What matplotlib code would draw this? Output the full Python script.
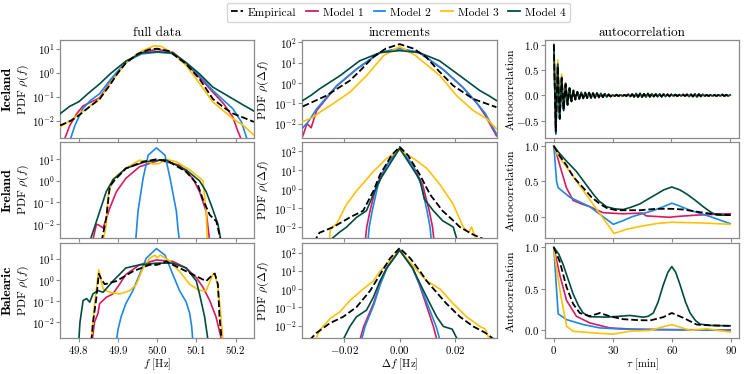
import matplotlib
matplotlib.use("Agg")
import matplotlib.pyplot as plt
from matplotlib.ticker import FixedLocator, NullLocator, LogFormatterSciNotation
from matplotlib.lines import Line2D

plt.rcParams['font.family'] = 'serif'
plt.rcParams['font.serif'] = ['cmr10']
plt.rcParams['mathtext.fontset'] = 'cm'
plt.rcParams['axes.formatter.use_mathtext'] = True
plt.rcParams['font.size'] = 8.5

# ---------------- labels ----------------
SERIES = ["Empirical", "Model 1", "Model 2", "Model 3", "Model 4"]
REGIONS = ["Iceland", "Ireland", "Balearic"]
COL_TITLES = ["full data", "increments", "autocorrelation"]
YLABELS = [r"PDF $\rho(f)$", r"PDF $\rho(\Delta f)$", "Autocorrelation"]
XLABELS = [r"$f$ [Hz]", r"$\Delta f$ [Hz]", r"$\tau$ [min]"]
F_TICKS = [49.8, 49.9, 50.0, 50.1, 50.2]
DF_TICKS = [-0.02, 0.0, 0.02]
TAU_TICKS = [0, 30, 60, 90]

# ---------------- data: (x, log10 PDF) ----------------
# Iceland, full data
ICE_F_EMP = [(49.752,-2.2),(49.78,-2.0),(49.80,-1.78),(49.825,-1.45),(49.853,-1.1),(49.88,-0.5),(49.90,0.0),(49.92,0.4),(49.95,0.78),(49.98,0.97),(50.0,1.0),(50.03,0.9),(50.074,0.36),(50.108,-0.26),(50.142,-1.09),(50.17,-1.45),(50.193,-1.7),(50.22,-1.87),(50.247,-2.05)]
ICE_F_M1 = [(49.764,-2.75),(49.777,-2.2),(49.795,-1.7),(49.811,-1.38),(49.853,-1.05),(49.88,-0.4),(49.92,0.42),(49.96,0.85),(50.0,0.97),(50.04,0.85),(50.074,0.38),(50.108,-0.19),(50.142,-0.81),(50.17,-1.3),(50.193,-1.85),(50.205,-2.4),(50.215,-2.8)]
ICE_F_M2 = [(49.778,-2.8),(49.79,-2.2),(49.81,-1.5),(49.83,-1.15),(49.853,-0.88),(49.88,-0.3),(49.92,0.45),(49.96,0.78),(50.0,0.85),(50.04,0.8),(50.074,0.4),(50.108,-0.12),(50.142,-0.74),(50.193,-1.5),(50.215,-2.05),(50.23,-2.8)]
ICE_F_M3 = [(49.752,-2.26),(49.786,-1.91),(49.80,-1.72),(49.82,-1.5),(49.853,-1.09),(49.88,-0.45),(49.92,0.42),(49.96,0.9),(49.993,1.12),(50.01,1.1),(50.04,0.8),(50.074,0.3),(50.108,-0.45),(50.142,-1.22),(50.193,-1.91),(50.22,-2.2),(50.247,-2.6)]
ICE_F_M4 = [(49.752,-1.71),(49.765,-1.55),(49.777,-1.4),(49.80,-1.21),(49.825,-0.85),(49.853,-0.47),(49.88,-0.05),(49.92,0.48),(49.96,0.82),(50.0,0.87),(50.04,0.82),(50.074,0.42),(50.108,-0.05),(50.142,-0.6),(50.193,-1.09),(50.22,-1.35),(50.247,-1.6)]

# Iceland, increments
ICE_I_EMP = [(-0.035,-1.15),(-0.0265,-0.62),(-0.018,0.12),(-0.014,0.65),(-0.0096,1.28),(-0.005,1.7),(0.0,1.92),(0.005,1.7),(0.0096,1.28),(0.014,0.62),(0.0194,-0.13),(0.0266,-0.78),(0.035,-1.19)]
ICE_I_M1 = [(-0.035,-2.6),(-0.0335,-2.0),(-0.032,-2.2),(-0.030,-1.35),(-0.0228,-0.15),(-0.0156,0.68),(-0.0071,1.5),(0.0,1.7),(0.0071,1.5),(0.0156,0.68),(0.0228,-0.2),(0.028,-1.0),(0.031,-1.6),(0.033,-2.1),(0.035,-2.6)]
ICE_I_M2 = [(-0.035,-2.2),(-0.033,-1.9),(-0.030,-1.27),(-0.0228,-0.13),(-0.0156,0.69),(-0.0071,1.51),(0.0,1.7),(0.0071,1.51),(0.0156,0.69),(0.0228,-0.2),(0.028,-1.0),(0.031,-1.5),(0.033,-2.0),(0.035,-2.5)]
ICE_I_M3 = [(-0.035,-1.9),(-0.0315,-1.7),(-0.0288,-1.43),(-0.025,-1.1),(-0.018,-0.45),(-0.012,0.36),(-0.0059,1.34),(0.0,1.8),(0.0059,1.34),(0.0146,0.36),(0.0206,-0.62),(0.0266,-1.35),(0.0315,-1.76),(0.035,-2.25)]
ICE_I_M4 = [(-0.035,-0.86),(-0.032,-0.6),(-0.029,-0.29),(-0.0216,0.36),(-0.0144,1.1),(-0.007,1.5),(0.0,1.6),(0.007,1.5),(0.0144,1.1),(0.0218,0.36),(0.029,-0.37),(0.032,-0.6),(0.035,-0.86)]

# Ireland, full data
IRE_F_EMP = [(49.858,-2.8),(49.87,-1.72),(49.879,-0.27),(49.89,0.0),(49.92,0.57),(49.964,0.88),(49.998,0.99),(50.03,0.88),(50.074,0.42),(50.104,-0.19),(50.117,-0.88),(50.134,-1.57),(50.151,-1.87),(50.163,-2.8)]
IRE_F_M1 = [(49.835,-2.8),(49.845,-2.0),(49.852,-2.05),(49.862,-2.18),(49.879,-1.26),(49.896,-0.5),(49.92,0.11),(49.955,0.65),(50.006,0.95),(50.057,0.72),(50.091,0.11),(50.108,-0.5),(50.125,-1.41),(50.134,-2.8)]
IRE_F_M2 = [(49.945,-2.8),(49.951,-1.41),(49.964,0.11),(49.977,1.18),(49.998,1.52),(50.02,1.18),(50.033,0.11),(50.049,-1.41),(50.053,-2.2),(50.057,-2.8)]
IRE_F_M3 = [(49.862,-2.8),(49.87,-2.0),(49.875,-0.65),(49.887,0.08),(49.92,0.57),(49.955,0.95),(49.977,0.88),(49.99,0.77),(50.006,0.8),(50.023,0.99),(50.049,0.88),(50.083,0.5),(50.104,0.2),(50.117,0.0),(50.125,-1.41),(50.128,-2.8)]
IRE_F_M4 = [(49.828,-2.8),(49.845,-1.87),(49.87,-0.5),(49.887,0.04),(49.92,0.57),(49.97,0.88),(50.02,0.98),(50.074,0.5),(50.108,0.0),(50.125,-0.5),(50.141,-1.27),(50.155,-2.0),(50.163,-2.8)]

# Ireland, increments
IRE_I_EMP = [(-0.031,-2.8),(-0.029,-2.3),(-0.024,-2.0),(-0.018,-1.49),(-0.0132,-1.14),(-0.0095,-0.1),(-0.0071,0.76),(-0.0029,1.79),(0.0,2.23),(0.003,1.79),(0.0073,0.76),(0.011,-0.28),(0.0155,-1.14),(0.0194,-1.66),(0.0218,-2.0),(0.0266,-2.4),(0.033,-2.8)]
IRE_I_M1 = [(-0.0125,-2.8),(-0.0119,-2.0),(-0.0107,-1.14),(-0.0083,0.24),(-0.0047,1.27),(0.0,2.15),(0.0047,1.27),(0.0083,0.24),(0.0107,-1.14),(0.0119,-2.0),(0.0125,-2.8)]
IRE_I_M2 = [(-0.0115,-2.8),(-0.0110,-2.0),(-0.0099,-1.14),(-0.0078,0.24),(-0.0045,1.3),(0.0,2.17),(0.0045,1.3),(0.0078,0.24),(0.0099,-1.14),(0.0110,-2.0),(0.0115,-2.8)]
IRE_I_M3 = [(-0.0255,-2.8),(-0.025,-2.1),(-0.0228,-1.83),(-0.0192,-0.8),(-0.0156,-0.1),(-0.0095,0.93),(-0.0047,1.62),(0.0,2.06),(0.005,1.62),(0.0098,1.1),(0.0146,0.24),(0.0194,-0.8),(0.023,-2.0),(0.025,-2.3),(0.026,-2.0),(0.028,-2.8)]
IRE_I_M4 = [(-0.026,-2.8),(-0.022,-2.3),(-0.0192,-2.0),(-0.0156,-1.49),(-0.012,-1.14),(-0.0095,-0.28),(-0.0071,0.5),(0.0,2.15),(0.0073,0.5),(0.009,-0.54),(0.0122,-1.14),(0.0155,-1.66),(0.0194,-2.0),(0.021,-2.8)]

# Balearic, full data
BAL_F_EMP = [(49.832,-2.9),(49.836,-2.04),(49.845,-0.82),(49.851,0.3),(49.856,0.1),(49.866,-0.2),(49.896,-0.05),(49.938,0.41),(49.98,0.72),(50.0,0.72),(50.023,0.88),(50.057,0.57),(50.091,0.26),(50.125,-0.05),(50.142,0.26),(50.147,0.3),(50.155,-0.2),(50.159,-1.74),(50.165,-2.9)]
BAL_F_M1 = [(49.834,-2.9),(49.84,-2.0),(49.849,-1.58),(49.853,-1.12),(49.87,-0.82),(49.887,-0.66),(49.904,-0.2),(49.92,0.26),(49.955,0.72),(49.998,0.95),(50.04,0.88),(50.074,0.57),(50.1,0.11),(50.117,-0.35),(50.134,-0.97),(50.15,-1.74),(50.165,-2.9)]
BAL_F_M2 = [(49.896,-2.9),(49.9,-2.35),(49.908,-1.74),(49.92,-1.12),(49.938,-0.5),(49.955,0.26),(49.972,1.03),(49.998,1.49),(50.02,1.18),(50.04,0.26),(50.057,-0.5),(50.074,-1.04),(50.083,-1.58),(50.088,-2.2),(50.091,-2.9)]
BAL_F_M3 = [(49.832,-2.9),(49.84,-1.2),(49.851,0.49),(49.862,-0.43),(49.879,-0.58),(49.904,-0.66),(49.93,-0.5),(49.947,-0.2),(49.964,0.57),(49.981,1.03),(49.994,1.18),(50.0,1.06),(50.008,1.18),(50.028,0.96),(50.057,0.41),(50.083,-0.2),(50.108,-0.5),(50.125,-0.5),(50.142,0.26),(50.147,0.33),(50.155,-0.35),(50.16,-1.2),(50.168,-2.9)]
BAL_F_M4 = [(49.80,-2.9),(49.803,-2.0),(49.811,-0.97),(49.82,-0.88),(49.828,-1.05),(49.836,-0.66),(49.849,-0.5),(49.862,-0.58),(49.887,-0.05),(49.92,0.57),(49.955,0.72),(49.998,0.8),(50.04,0.8),(50.074,0.57),(50.1,-0.05),(50.108,-0.66),(50.121,-1.74),(50.13,-2.9)]

# Balearic, increments
BAL_I_EMP = [(-0.0326,-2.8),(-0.030,-2.4),(-0.0252,-1.87),(-0.0204,-1.52),(-0.0156,-0.99),(-0.0107,-0.1),(-0.0071,0.79),(-0.0035,1.68),(0.0,2.25),(0.0039,1.68),(0.0075,0.95),(0.0098,0.44),(0.0134,-0.19),(0.017,-0.81),(0.0218,-1.52),(0.0266,-2.05),(0.031,-2.4),(0.0345,-2.8)]
BAL_I_M1 = [(-0.0144,-2.8),(-0.013,-2.05),(-0.0095,-0.81),(-0.0071,0.26),(-0.0047,1.15),(0.0,2.13),(0.0047,1.15),(0.0071,0.26),(0.0095,-0.81),(0.0122,-2.05),(0.0135,-2.8)]
BAL_I_M2 = [(-0.0138,-2.8),(-0.0125,-2.05),(-0.0092,-0.81),(-0.0070,0.26),(-0.0046,1.15),(0.0,2.15),(0.0046,1.15),(0.0072,0.26),(0.0100,-0.81),(0.0132,-2.05),(0.0146,-2.8)]
BAL_I_M3 = [(-0.0305,-2.8),(-0.0288,-2.23),(-0.025,-1.6),(-0.0216,-1.25),(-0.018,-0.63),(-0.0132,0.0),(-0.0095,0.44),(-0.0071,0.97),(0.0,2.13),(0.0047,1.3),(0.0098,0.44),(0.0146,0.0),(0.0194,-0.81),(0.0242,-1.52),(0.029,-2.05),(0.031,-2.2),(0.0325,-2.8)]
BAL_I_M4 = [(-0.0205,-2.8),(-0.018,-2.05),(-0.0156,-1.52),(-0.012,-1.16),(-0.0095,-0.45),(-0.0071,0.44),(-0.0047,1.15),(0.0,2.13),(0.0047,1.15),(0.0075,0.26),(0.011,-0.81),(0.0134,-1.52),(0.0158,-2.05),(0.019,-2.2),(0.021,-2.8)]

# ---------------- autocorrelation (tau [min], value) ----------------
ICE_TAU = list(range(0, 91))
ICE_A_EMP = [1.00,-0.70,0.58,-0.45,0.34,-0.28,0.22,-0.18,0.14,-0.11,
             0.09,-0.08,0.07,-0.06,0.06,-0.05,0.05,-0.05,0.05,-0.04,
             0.04,-0.04,0.04,-0.03,0.03,-0.03,0.03,-0.02,0.02,-0.02,
             0.01,-0.01,0.01,-0.01,0.01,-0.01,0.01,-0.01,0.02,-0.02,
             0.02,-0.02,0.03,-0.03,0.03,-0.03,0.03,-0.02,0.03,-0.02,
             0.03,-0.02,0.02,-0.02,0.02,-0.02,0.02,-0.02,0.02,-0.01,
             0.02,-0.01,0.01,-0.01,0.01,-0.01,0.01,-0.01,0.02,-0.01,
             0.02,-0.02,0.02,-0.02,0.02,-0.01,0.01,-0.01,0.01,-0.01,
             0.01,-0.01,0.01,-0.01,0.01,-0.01,0.01,-0.01,0.01,-0.01,0.01]
ICE_A_M1 = [1.00,-0.72,0.60,-0.46,0.35,-0.28,0.23,-0.18,0.14,-0.12,
            0.10,-0.08,0.07,-0.07,0.06,-0.05,0.06,-0.05,0.05,-0.05,
            0.05,-0.04,0.04,-0.04,0.03,-0.03,0.03,-0.02,0.02,-0.02,
            0.01,-0.01,0.02,-0.01,0.01,-0.01,0.01,-0.01,0.02,-0.02,
            0.03,-0.02,0.03,-0.03,0.04,-0.03,0.03,-0.03,0.03,-0.02,
            0.03,-0.02,0.03,-0.02,0.02,-0.02,0.03,-0.02,0.02,-0.02,
            0.02,-0.01,0.01,-0.01,0.02,-0.01,0.02,-0.01,0.02,-0.02,
            0.02,-0.02,0.03,-0.02,0.02,-0.02,0.02,-0.01,0.01,-0.01,
            0.01,-0.01,0.01,-0.01,0.01,-0.01,0.02,-0.01,0.01,-0.01,0.01]
ICE_A_M2 = [1.00,-0.74,0.61,-0.46,0.36,-0.29,0.23,-0.19,0.15,-0.12,
            0.10,-0.08,0.07,-0.07,0.06,-0.06,0.05,-0.05,0.05,-0.05,
            0.05,-0.04,0.04,-0.04,0.04,-0.03,0.03,-0.03,0.02,-0.02,
            0.01,-0.01,0.01,-0.01,0.01,-0.01,0.01,-0.01,0.02,-0.02,
            0.03,-0.03,0.03,-0.03,0.04,-0.03,0.03,-0.03,0.04,-0.03,
            0.03,-0.02,0.03,-0.02,0.03,-0.02,0.02,-0.02,0.02,-0.02,
            0.02,-0.01,0.02,-0.01,0.01,-0.01,0.02,-0.01,0.02,-0.02,
            0.02,-0.02,0.03,-0.03,0.03,-0.02,0.02,-0.01,0.01,-0.01,
            0.01,-0.01,0.01,-0.01,0.01,-0.01,0.02,-0.01,0.01,-0.01,0.01]
ICE_A_M3 = [1.00,-0.55,0.70,-0.40,0.42,-0.26,0.25,-0.17,0.15,-0.11,
            0.10,-0.08,0.07,-0.06,0.06,-0.05,0.05,-0.05,0.05,-0.04,
            0.05,-0.04,0.04,-0.03,0.03,-0.03,0.03,-0.02,0.02,-0.02,
            0.01,-0.01,0.01,-0.01,0.01,-0.01,0.01,-0.01,0.02,-0.02,
            0.03,-0.03,0.03,-0.03,0.03,-0.03,0.03,-0.03,0.03,-0.03,
            0.03,-0.02,0.03,-0.02,0.02,-0.02,0.03,-0.02,0.02,-0.02,
            0.02,-0.01,0.01,-0.01,0.01,-0.01,0.02,-0.01,0.02,-0.02,
            0.02,-0.02,0.03,-0.03,0.02,-0.02,0.02,-0.01,0.01,-0.01,
            0.01,-0.01,0.01,-0.01,0.01,-0.01,0.01,-0.01,0.01,-0.01,0.01]
ICE_A_M4 = [1.00,-0.76,0.62,-0.47,0.36,-0.30,0.24,-0.19,0.15,-0.12,
            0.10,-0.08,0.07,-0.07,0.06,-0.06,0.06,-0.05,0.06,-0.05,
            0.05,-0.05,0.05,-0.04,0.04,-0.04,0.03,-0.03,0.02,-0.02,
            0.01,-0.01,0.01,-0.01,0.01,-0.01,0.01,-0.01,0.02,-0.02,
            0.03,-0.03,0.04,-0.03,0.04,-0.03,0.03,-0.03,0.04,-0.03,
            0.03,-0.02,0.03,-0.02,0.03,-0.03,0.03,-0.02,0.02,-0.02,
            0.02,-0.01,0.02,-0.01,0.01,-0.01,0.02,-0.01,0.02,-0.02,
            0.02,-0.02,0.03,-0.03,0.03,-0.02,0.02,-0.01,0.01,-0.01,
            0.01,-0.01,0.01,-0.01,0.01,-0.01,0.02,-0.01,0.01,-0.01,0.01]

IRE_A_EMP = [(0,1.0),(3,0.86),(6.4,0.73),(10,0.56),(14.9,0.41),(19,0.28),(23.4,0.18),(27,0.12),(31.9,0.09),(43.7,0.09),(52,0.11),(60,0.11),(66,0.1),(72.6,0.07),(80,0.04),(89.7,0.02)]
IRE_A_M1 = [(0,1.0),(1.5,0.88),(3,0.73),(6.4,0.41),(9.8,0.23),(14,0.18),(18.3,0.14),(25.1,0.055),(35,0.04),(45,0.05),(47,0.01),(53,0.0),(59,-0.01),(62,0.0),(72,0.02),(80,0.03),(89.7,0.04)]
IRE_A_M2 = [(0,1.0),(0.7,0.75),(1.4,0.5),(2.2,0.41),(8.1,0.275),(18.3,0.14),(25,0.0),(30.2,-0.11),(35,-0.06),(40,0.0),(45.5,0.045),(50,0.08),(55.7,0.14),(60,0.19),(64,0.15),(69.3,0.09),(79.5,0.0),(89.7,-0.1)]
IRE_A_M3 = [(0,1.0),(1.4,0.9),(30.6,-0.24),(37,-0.18),(43.8,-0.14),(52,-0.1),(60,-0.08),(75,-0.09),(89.7,-0.11)]
IRE_A_M4 = [(0,1.0),(2.2,0.92),(6,0.8),(11.5,0.64),(16,0.47),(20,0.32),(23,0.22),(26.8,0.14),(31,0.11),(35.3,0.10),(39,0.13),(43.8,0.18),(48,0.25),(52.3,0.32),(56,0.38),(60,0.42),(64,0.38),(67.6,0.32),(72,0.23),(76,0.14),(80,0.06),(82.9,0.02),(89.7,0.02)]

BAL_A_EMP = [(0,1.0),(3,0.83),(6.5,0.52),(9.8,0.32),(13.2,0.21),(18.3,0.17),(23.4,0.21),(28.5,0.17),(35.3,0.135),(42,0.125),(49,0.12),(55.7,0.16),(60,0.21),(66,0.15),(72.7,0.07),(80,0.06),(89.7,0.055)]
BAL_A_M1 = [(0,1.0),(3,0.67),(6.5,0.36),(11.5,0.17),(18.3,0.09),(28.5,0.03),(40,0.015),(55,0.01),(70,0.008),(89.7,0.005)]
BAL_A_M2 = [(0,1.0),(1.1,0.59),(2.2,0.2),(6.5,0.13),(15,0.07),(23.4,0.03),(35,0.015),(50,0.01),(70,0.005),(89.7,0.0)]
BAL_A_M3 = [(0,1.0),(1.1,0.79),(3.7,0.4),(6.5,0.05),(9.8,-0.01),(20,-0.03),(30.2,-0.045),(38.7,-0.01),(49,0.0),(55,0.04),(60,0.07),(64,0.04),(69.3,0.0),(77.8,0.02),(84,0.0),(89.7,-0.02)]
BAL_A_M4 = [(0,1.0),(2.5,0.92),(4.8,0.79),(7.5,0.6),(9.8,0.44),(12.5,0.3),(14.9,0.21),(18.3,0.165),(26.8,0.16),(33,0.17),(38.7,0.18),(45.5,0.16),(48,0.17),(50.6,0.21),(53,0.34),(55.7,0.55),(58,0.7),(60,0.77),(62,0.7),(64.2,0.55),(67,0.34),(69.3,0.21),(72,0.12),(74.4,0.075),(80,0.06),(89.7,0.055)]

COLORS = ["black", "#D81B60", "#1E88E5", "#FFC107", "#004D40"]
STYLES = ["--", "-", "-", "-", "-"]

FULL = [[ICE_F_EMP, ICE_F_M1, ICE_F_M2, ICE_F_M3, ICE_F_M4],
        [IRE_F_EMP, IRE_F_M1, IRE_F_M2, IRE_F_M3, IRE_F_M4],
        [BAL_F_EMP, BAL_F_M1, BAL_F_M2, BAL_F_M3, BAL_F_M4]]
INCR = [[ICE_I_EMP, ICE_I_M1, ICE_I_M2, ICE_I_M3, ICE_I_M4],
        [IRE_I_EMP, IRE_I_M1, IRE_I_M2, IRE_I_M3, IRE_I_M4],
        [BAL_I_EMP, BAL_I_M1, BAL_I_M2, BAL_I_M3, BAL_I_M4]]
ACF_ICE = [ICE_A_EMP, ICE_A_M1, ICE_A_M2, ICE_A_M3, ICE_A_M4]
ACF = [None,
       [IRE_A_EMP, IRE_A_M1, IRE_A_M2, IRE_A_M3, IRE_A_M4],
       [BAL_A_EMP, BAL_A_M1, BAL_A_M2, BAL_A_M3, BAL_A_M4]]

FULL_YLIM = [(10**-2.74, 10**1.35), (10**-2.63, 10**1.8), (10**-2.77, 10**1.75)]
INCR_YLIM = [(10**-2.73, 10**2.11), (10**-2.57, 10**2.5), (10**-2.71, 10**2.52)]

fig = plt.figure(figsize=(7.47, 3.74), dpi=100)

COL_X = [(0.0803, 0.2597), (0.4043, 0.2610), (0.7296, 0.2597)]
ROW_Y = [(0.6297, 0.2627), (0.3640, 0.2570), (0.0950, 0.2550)]
YLABEL_X = [-0.15, -0.158, -0.15]
SPINE = "#8a8a8a"
zorders = [6, 2, 3, 4, 5]

def style_axes(ax):
    for s in ax.spines.values():
        s.set_color(SPINE)
        s.set_linewidth(0.9)
    ax.tick_params(length=3.0, width=0.8, color=SPINE, pad=1.0, labelsize=7.8)

for r in range(3):
    for c in range(3):
        x0, w = COL_X[c]
        y0, h = ROW_Y[r]
        ax = fig.add_axes([x0, y0, w, h])
        style_axes(ax)
        if c < 2:
            data = FULL[r] if c == 0 else INCR[r]
            for i in range(5):
                xs = [p[0] for p in data[i]]
                ys = [10 ** p[1] for p in data[i]]
                ax.plot(xs, ys, STYLES[i], color=COLORS[i], lw=1.2 if i else 1.3, zorder=zorders[i])
            ax.set_yscale("log")
            if c == 0:
                ax.set_xlim(49.752, 50.247)
                ax.set_ylim(*FULL_YLIM[r])
                ax.set_xticks(F_TICKS)
                ax.yaxis.set_major_locator(FixedLocator([1e-2, 1e-1, 1, 10]))
            else:
                ax.set_xlim(-0.0353, 0.0352)
                ax.set_ylim(*INCR_YLIM[r])
                ax.set_xticks(DF_TICKS)
                ax.yaxis.set_major_locator(FixedLocator([1e-2, 1e-1, 1, 10, 100]))
            ax.yaxis.set_major_formatter(LogFormatterSciNotation())
            ax.yaxis.set_minor_locator(NullLocator())
        else:
            if r == 0:
                for i in range(5):
                    ax.plot(ICE_TAU, ACF_ICE[i], STYLES[i], color=COLORS[i], lw=1.2 if i else 1.3, zorder=zorders[i])
                ax.set_yticks([-0.5, 0.0, 0.5, 1.0])
            else:
                for i in range(5):
                    xs = [p[0] for p in ACF[r][i]]
                    ys = [p[1] for p in ACF[r][i]]
                    ax.plot(xs, ys, STYLES[i], color=COLORS[i], lw=1.2 if i else 1.3, zorder=zorders[i])
                ax.set_yticks([0.0, 0.5, 1.0])
            ax.set_xticks(TAU_TICKS)
        ax.set_ylabel(YLABELS[c])
        ax.yaxis.set_label_coords(YLABEL_X[c], 0.5)
        if r < 2:
            ax.tick_params(labelbottom=False)
        else:
            ax.set_xlabel(XLABELS[c], fontsize=7.8, labelpad=0.5)
        if r == 0:
            ax.set_title(COL_TITLES[c], fontsize=9.5, pad=3)
        if c == 0:
            ax.text(-0.268, 0.5, REGIONS[r], transform=ax.transAxes,
                    rotation=90, ha="center", va="center", fontsize=10,
                    fontfamily="cmb10")

handles = [Line2D([], [], color=COLORS[i], ls=STYLES[i], lw=1.3) for i in range(5)]
fig.legend(handles, SERIES, loc="center", bbox_to_anchor=(0.5335, 0.9666), ncol=5,
           frameon=True, fontsize=8.3, handlelength=1.0, handletextpad=0.45,
           columnspacing=0.85, borderpad=0.4)

fig.savefig("out.png", dpi=100)
